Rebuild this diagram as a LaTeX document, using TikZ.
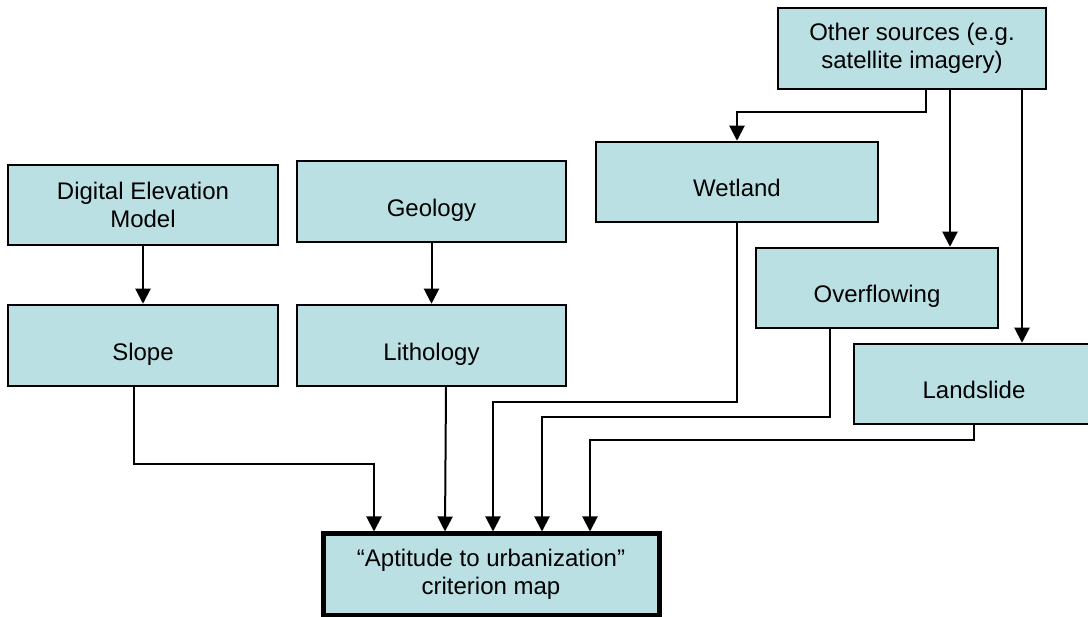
\documentclass[tikz,border=0pt]{standalone}
\usepackage{fontspec}
\setmainfont{Liberation Sans}
\usetikzlibrary{arrows.meta}
\definecolor{boxfill}{RGB}{187,224,228}
\newcommand\lowtext[1]{\raisebox{-15pt}[0pt][0pt]{#1}}
\begin{document}
\begin{tikzpicture}[x=1pt,y=-1pt,
  box/.style={draw=black,line width=2.5pt,fill=boxfill,inner sep=0pt,align=center,
    font=\fontsize{24}{27.5}\selectfont},
  arr/.style={line width=2pt,-{Triangle[length=15pt,width=15pt]}},
  ln/.style={line width=2pt}]
\useasboundingbox (0,0) rectangle (1088,617);
\node[box,minimum width=268pt,minimum height=81pt] (other) at (912,48.5) {Other sources (e.g.\\satellite imagery)};
\node[box,minimum width=282pt,minimum height=80pt] (wetland) at (737,182) {\lowtext{Wetland}};
\node[box,minimum width=270pt,minimum height=80pt] (dem) at (143,205) {Digital Elevation\\Model};
\node[box,minimum width=269pt,minimum height=81pt] (geology) at (431.5,201.5) {\lowtext{Geology}};
\node[box,minimum width=242pt,minimum height=80pt] (overflow) at (877,288) {\lowtext{Overflowing}};
\node[box,minimum width=270pt,minimum height=81pt] (slope) at (143,345.5) {\lowtext{Slope}};
\node[box,minimum width=269pt,minimum height=81pt] (litho) at (431.5,345.5) {\lowtext{Lithology}};
\node[box,minimum width=240pt,minimum height=80pt] (landslide) at (974,384) {\lowtext{Landslide}};
\node[box,line width=5pt,minimum width=336pt,minimum height=81pt] (apt) at (491,574.5) {“Aptitude to urbanization”\\criterion map};
% from other sources
\draw[arr] ([xshift=14pt]other.south) |- (737,112) -- (wetland.north);
\draw[arr] ([xshift=38pt]other.south) -- ([xshift=38pt]other.south |- overflow.north);
\draw[arr] ([xshift=110pt]other.south) -- ([xshift=110pt]other.south |- landslide.north);
% vertical pairs
\draw[arr] (dem.south) -- (slope.north);
\draw[arr] (geology.south) -- (litho.north);
% into aptitude
\draw[arr] ([xshift=-9pt]slope.south) |- (374,464) -- ([xshift=-117pt]apt.north);
\draw[arr] ([xshift=14.5pt]litho.south) -- ([xshift=-46pt]apt.north);
\draw[arr] (wetland.south) |- (493,402) -- ([xshift=2pt]apt.north);
\draw[arr] ([xshift=-47pt]overflow.south) |- (542,417) -- ([xshift=51pt]apt.north);
\draw[arr] (landslide.south) |- (590,440) -- ([xshift=99pt]apt.north);
\end{tikzpicture}
\end{document}
